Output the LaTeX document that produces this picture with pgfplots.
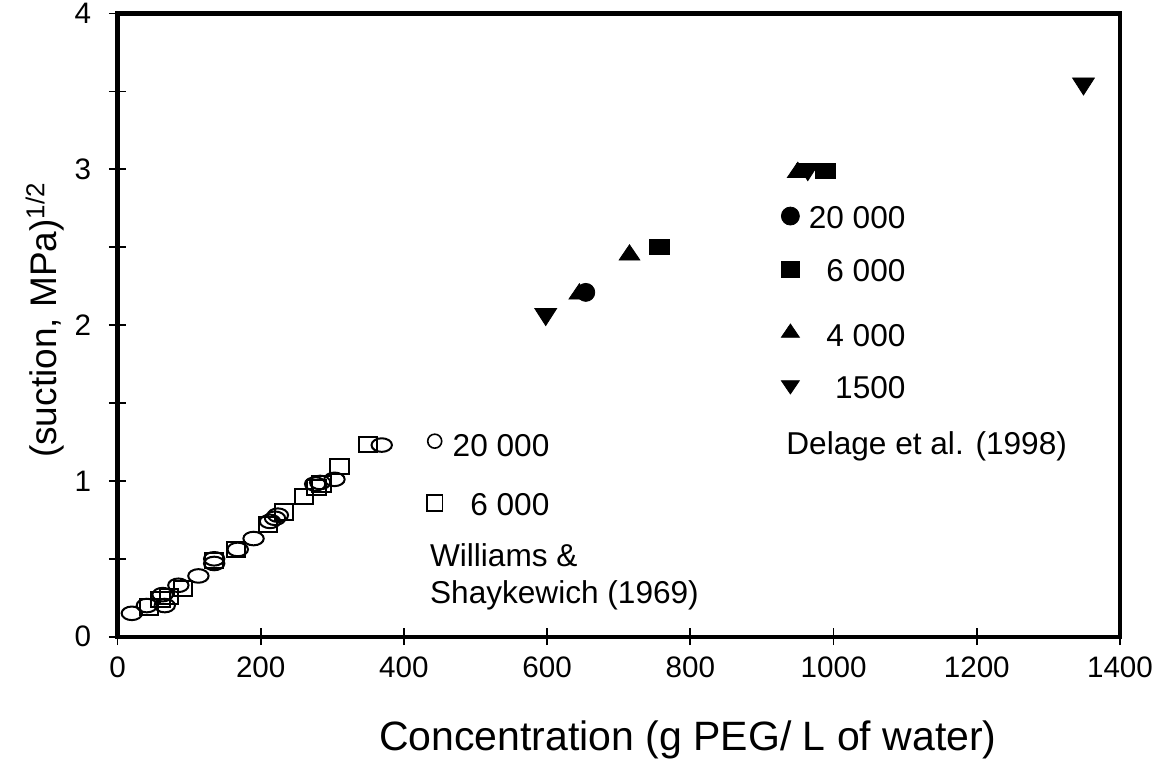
\documentclass[border=0pt]{standalone}
\usepackage{pgfplots}
\pgfplotsset{compat=1.18}
\usepackage{fontspec}
\setmainfont{Liberation Sans}

% open markers (Williams & Shaykewich 1969)
\pgfplotstableread{
x y
20 0.15
41 0.20
66 0.20
63 0.27
85 0.33
113 0.39
135 0.47
135 0.50
168 0.56
190 0.63
213 0.74
220 0.76
224 0.78
276 0.98
283 0.99
303 1.01
369 1.23
}\wsCircle
\pgfplotstableread{
x y
44 0.19
60 0.24
72 0.26
92 0.31
135 0.49
166 0.56
210 0.72
233 0.80
260 0.90
278 0.96
285 0.98
310 1.09
350 1.235
}\wsSquare

\begin{document}
\begin{tikzpicture}
\path[use as bounding box] (-58.75pt,-70.15pt) rectangle (522.25pt,318.35pt);
\begin{axis}[
  at={(0pt,0pt)}, anchor=south west,
  scale only axis, width=501.25pt, height=311.6pt,
  xmin=0, xmax=1400, ymin=0, ymax=4,
  xtick={0,200,...,1400}, ytick={0,1,2,3,4},
  minor ytick={0.5,1.5,2.5,3.5},
  xtick pos=left, ytick pos=left,
  tick align=center,
  major tick length=8.5pt, minor tick length=8.5pt,
  tick style={black, line width=0.9pt},
  axis line style={line width=2.2pt},
  x axis line style={line width=2.7pt},
  /pgf/number format/assume math mode=true,
  /pgf/number format/1000 sep={},
  ticklabel style={font=\fontsize{14.8}{16}\selectfont},
  xticklabel style={anchor=base, yshift=-16pt},
  yticklabel style={anchor=east, xshift=-5.4pt},
  xlabel={Concentration (g PEG/ L of water)},
  ylabel={(suction, MPa)\textsuperscript{1/2}},
  every axis x label/.style={at={(axis description cs:0.569,0)}, anchor=center, yshift=-51.6pt, font=\fontsize{20.5}{24}\selectfont},
  every axis y label/.style={at={(axis description cs:0,0.508)}, xshift=-36.25pt, rotate=90, anchor=center, font=\fontsize{18.5}{22}\selectfont},
  clip=false,
]
% Williams & Shaykewich (1969)
\addplot[only marks, mark=o, mark size=3.4pt, mark options={xscale=1.5, line width=1pt, black}] table {\wsCircle};
\addplot[only marks, mark=square, mark size=3.8pt, mark options={xscale=1.2, line width=1pt, black}] table {\wsSquare};

% Delage et al. (1998)
\addplot[only marks, mark=*, mark size=4.5pt, mark options={black}] coordinates {(654,2.21)};
\addplot[only marks, mark=square*, mark size=5pt, mark options={yscale=0.75, black}] coordinates {(757,2.503) (989,2.99)};
\addplot[only marks, mark=triangle*, mark size=6pt, mark options={yscale=0.85, black}] coordinates {(645,2.2) (715,2.45) (950,2.98)};
\addplot[only marks, mark=triangle*, mark size=6.3pt, mark options={rotate=180, yscale=0.9, black}] coordinates {(598,2.07) (964,3.0) (1349,3.55)};

% legend markers
\addplot[only marks, mark=*, mark size=4.5pt, mark options={black}] coordinates {(939.7,2.70)};
\addplot[only marks, mark=square*, mark size=4.5pt, mark options={yscale=0.85, black}] coordinates {(939.7,2.358)};
\addplot[only marks, mark=triangle*, mark size=5.2pt, mark options={yscale=0.85, black}] coordinates {(939.7,1.95)};
\addplot[only marks, mark=triangle*, mark size=5.2pt, mark options={rotate=180, yscale=0.85, black}] coordinates {(939.7,1.615)};
\addplot[only marks, mark=o, mark size=3.5pt, mark options={line width=0.8pt, black}] coordinates {(443,1.255)};
\addplot[only marks, mark=square, mark size=3.9pt, mark options={line width=0.8pt, black}] coordinates {(443,0.858)};

\begin{scope}[every node/.style={inner sep=0pt, font=\fontsize{15.8}{18}\selectfont}]
\node[anchor=east] at (axis cs:1101,2.69) {20 000};
\node[anchor=east] at (axis cs:1101,2.35) {6 000};
\node[anchor=east] at (axis cs:1101,1.93) {4 000};
\node[anchor=east] at (axis cs:1101,1.60) {1500};
\node at (axis cs:1130,1.224) {Delage et al. (1998)};
\node[anchor=east] at (axis cs:603.7,1.224) {20 000};
\node[anchor=east] at (axis cs:603.7,0.845) {6 000};
\node[anchor=west] at (axis cs:436,0.524) {Williams \&};
\node[anchor=west] at (axis cs:436,0.268) {Shaykewich (1969)};
\end{scope}
\end{axis}
\end{tikzpicture}
\end{document}
